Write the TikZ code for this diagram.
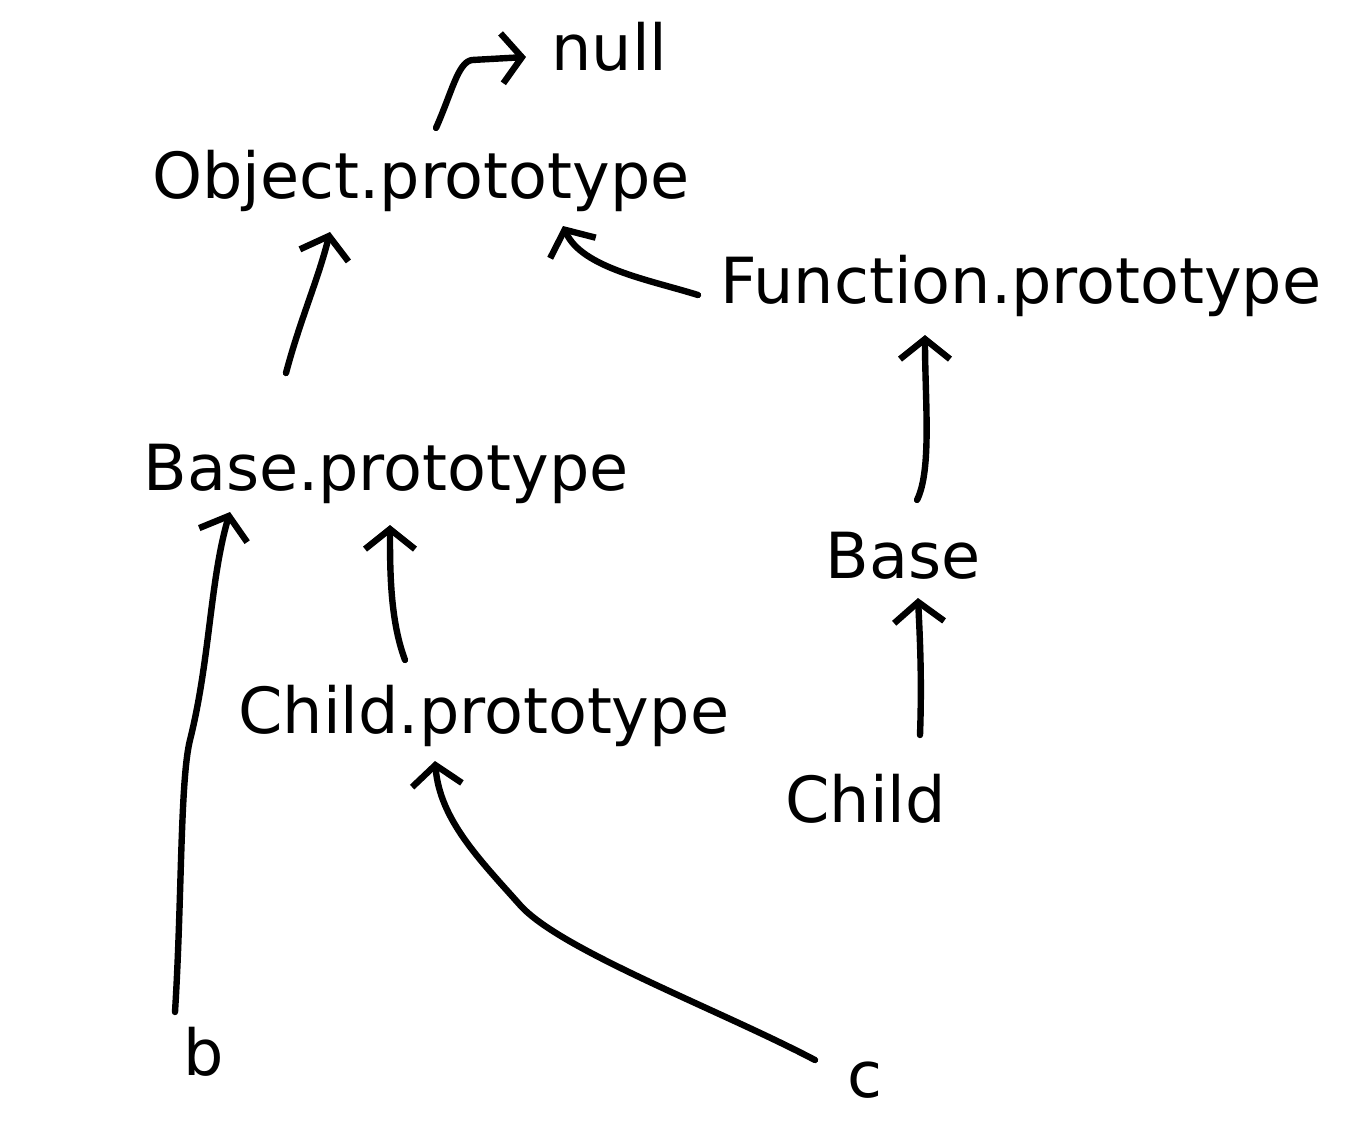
\documentclass[tikz,border=0pt]{standalone}
\usepackage{fontspec}
\setmainfont{DejaVu Sans}
\usetikzlibrary{arrows.meta,calc}

\begin{document}
\begin{tikzpicture}[x=0.5pt, y=-0.5pt,
  lbl/.style={anchor=base west, inner sep=0pt, font=\fontsize{31.8}{38}\selectfont},
  link/.style={-{Straight Barb[length=10pt, width=25pt]}, line width=3.2pt,
    line cap=round, line join=round}]
  \useasboundingbox (0,0) rectangle (1346,1132);
  % labels
  \node[lbl] (null) at (551,70) {null};
  \node[lbl] (objproto) at (152,198) {Object.prototype};
  \node[lbl] (funcproto) at (720,303) {Function.prototype};
  \node[lbl] (baseproto) at (143,490) {Base.prototype};
  \node[lbl] (base) at (825,578) {Base};
  \node[lbl] (childproto) at (238,733) {Child.prototype};
  \node[lbl] (child) at (785,822) {Child};
  \node[lbl] (b) at (183,1075) {b};
  \node[lbl] (c) at (847,1097) {c};
  % prototype links
  \draw[link] ([shift={(284,-70)}]objproto.base west)
    .. controls (452,92) and (458,62) .. (472,60) -- ([shift={(-25,-13)}]null.base west);
  \draw[link] ([shift={(143,-117)}]baseproto.base west)
    .. controls (300,320) and (318,280) .. ([shift={(178,34)}]objproto.base west);
  \draw[link] ([shift={(-22,-8)}]funcproto.base west)
    .. controls (650,280) and (582,268) .. ([shift={(411,28)}]objproto.base west);
  \draw[link] ([shift={(92,-78)}]base.base west)
    .. controls (932,470) and (925,400) .. ([shift={(205,32)}]funcproto.base west);
  \draw[link] ([shift={(167,-73)}]childproto.base west)
    .. controls (390,620) and (390,570) .. ([shift={(247,35)}]baseproto.base west);
  \draw[link] ([shift={(135,-87)}]child.base west)
    .. controls (922,680) and (920,640) .. ([shift={(93,20)}]base.base west);
  \draw[link] ([shift={(-8,-63)}]b.base west)
    .. controls (182,900) and (180,780) .. (190,740)
    .. controls (210,660) and (210,580) .. ([shift={(87,22)}]baseproto.base west);
  \draw[link] ([shift={(-32,-37)}]c.base west)
    .. controls (720,1010) and (560,950) .. (520,905)
    .. controls (480,860) and (440,820) .. ([shift={(197,28)}]childproto.base west);
\end{tikzpicture}
\end{document}
